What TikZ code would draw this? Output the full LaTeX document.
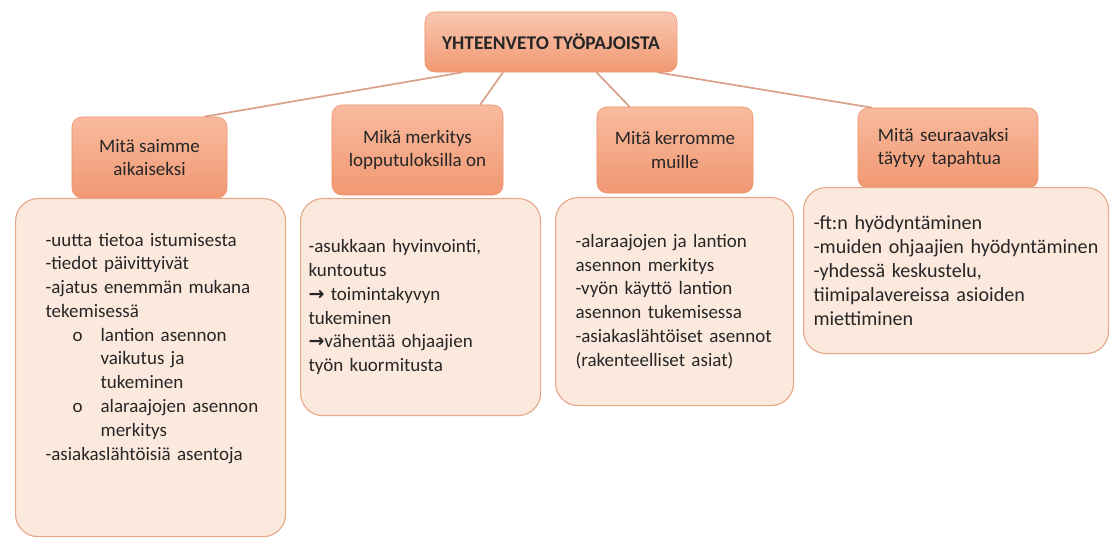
\documentclass[tikz,border=0pt]{standalone}
\usepackage{fontspec}
\setmainfont{Carlito}
\newfontfamily\arrowfont{DejaVu Sans}
\usepackage{xcolor}
\usetikzlibrary{positioning, calc}

\definecolor{headtop}{RGB}{248,186,158}
\definecolor{headbot}{RGB}{241,152,114}
\definecolor{headedge}{RGB}{236,146,108}
\definecolor{infofill}{RGB}{252,233,222}
\definecolor{infoedge}{RGB}{230,168,136}
\definecolor{linkcol}{RGB}{216,160,136}
\newcommand{\txtsize}{\fontsize{13.5}{16.9}\selectfont}
\newcommand{\nuoli}{{\arrowfont\bfseries →}}

\begin{document}
\begin{tikzpicture}[
    x=0.025cm, y=-0.025cm,
    mainbox/.style={draw=headedge, top color=headtop!80!white, bottom color=headbot, rounded corners=7pt, font=\bfseries\fontsize{13.8}{16}\selectfont, text=black!85},
    headbox/.style={draw=headedge, top color=headtop, bottom color=headbot, rounded corners=7pt, align=center, font=\txtsize, text=black!85},
    infobox/.style={draw=infoedge, line width=0.8pt, fill=infofill, rounded corners=16pt, anchor=north west, align=left, font=\txtsize, text=black!85},
    link/.style={draw=linkcol, line width=1.2pt}
]
\useasboundingbox (0,0) rectangle (1112,538);
% Otsikko
\node[mainbox, minimum width=6.3cm, minimum height=1.5cm] (summary) at (551,42) {YHTEENVETO TYÖPAJOISTA};
% Kysymykset
\node[headbox, minimum width=3.875cm, minimum height=2.025cm] (q1) at (149.5,157.5) {Mitä saimme\\aikaiseksi};
\node[headbox, minimum width=4.275cm, minimum height=2.25cm] (q2) at (417.5,150) {Mikä merkitys\\lopputuloksilla on};
\node[headbox, minimum width=3.9cm, minimum height=2.15cm] (q3) at (675,150) {Mitä kerromme\\muille};
\node[headbox, align=left, inner xsep=0.5cm, text width=3.5cm, minimum height=2cm] (q4) at (948,148) {Mitä seuraavaksi\\täytyy tapahtua};
% Vastaukset
\node[infobox, minimum width=6.75cm, minimum height=8.45cm, inner xsep=0.75cm, inner ysep=0.85cm, text width=5.25cm, text depth=6.4cm] (a1) at (15,198) {-uutta tietoa istumisesta\\-tiedot päivittyivät\\-ajatus enemmän mukana\\tekemisessä\\\hspace*{0.675cm}\makebox[0.7cm][l]{o}lantion asennon\\\hspace*{1.375cm}vaikutus ja\\\hspace*{1.375cm}tukeminen\\\hspace*{0.675cm}\makebox[0.7cm][l]{o}\mbox{alaraajojen asennon}\\\hspace*{1.375cm}merkitys\\-asiakaslähtöisiä asentoja};
\node[infobox, minimum width=6cm, minimum height=5.425cm, inner xsep=0.2cm, text width=5.6cm] (a2) at (300,198) {-asukkaan hyvinvointi,\\kuntoutus\\\nuoli{} toimintakyvyn\\tukeminen\\\nuoli{}vähentää ohjaajien\\työn kuormitusta};
\node[infobox, minimum width=5.95cm, minimum height=5.2cm, inner xsep=0.5cm, text width=4.95cm] (a3) at (555,197) {-alaraajojen ja lantion\\asennon merkitys\\-vyön käyttö lantion\\asennon tukemisessa\\-asiakaslähtöiset asennot\\(rakenteelliset asiat)};
\node[infobox, minimum width=7.625cm, minimum height=4.15cm, inner xsep=0.25cm, text width=7.125cm, font=\fontsize{14.3}{16.9}\selectfont] (a4) at (803,187) {-ft:n hyödyntäminen\\\mbox{-muiden ohjaajien hyödyntäminen}\\-yhdessä keskustelu,\\tiimipalavereissa asioiden\\miettiminen};
% Yhteydet
\draw[link] ($(summary.south west)!0.15!(summary.south east)$) -- ($(q1.north west)!0.85!(q1.north east)$);
\draw[link] ($(summary.south west)!0.31!(summary.south east)$) -- ($(q2.north west)!0.865!(q2.north east)$);
\draw[link] ($(summary.south west)!0.68!(summary.south east)$) -- ($(q3.north west)!0.21!(q3.north east)$);
\draw[link] ($(summary.south west)!0.92!(summary.south east)$) -- ($(q4.north west)!0.08!(q4.north east)$);
\end{tikzpicture}
\end{document}
